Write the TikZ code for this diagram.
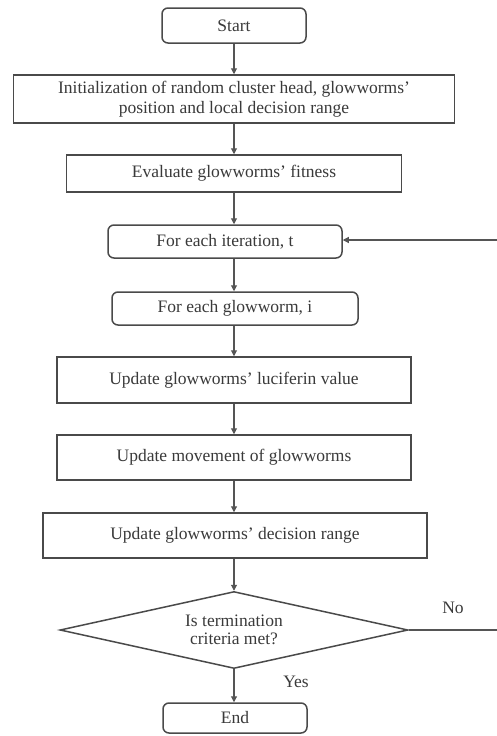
\documentclass[tikz,border=0pt]{standalone}
\usepackage{fontspec}
\setmainfont{Liberation Serif}
\usetikzlibrary{shapes.geometric,arrows.meta}
\definecolor{txt}{HTML}{3A3A3A}
\definecolor{edge}{HTML}{4A4A4A}
\definecolor{conn}{HTML}{555555}
\begin{document}
\begin{tikzpicture}[x=1pt,y=-1pt,
  every node/.style={font=\fontsize{17.5}{20}\selectfont, text=txt, inner sep=0pt},
  proc/.style={draw=edge, line width=1.5pt, fill=white, align=center},
  rbox/.style={proc, rounded corners=6pt},
  decide/.style={draw=edge, line width=1.5pt, shape=diamond, aspect=4.5, align=center,
     font=\fontsize{17.5}{18}\selectfont},
  arr/.style={draw=conn, line width=1.1pt, -{Triangle[width=6pt,length=6pt]}},
  ln/.style={draw=conn, line width=1.1pt},
  lbl/.style={text=txt}]
\useasboundingbox (0,0) rectangle (497,736);

\node[rbox, minimum width=144pt, minimum height=35pt] (start) at (234,25.5) {Start};
\node[proc, minimum width=441pt, minimum height=48pt] (init) at (234,99)
  {Initialization of random cluster head, glowworms'\\position and local decision range};
\node[proc, minimum width=335pt, minimum height=37pt] (eval) at (234,173.5) {Evaluate glowworms' fitness};
\node[rbox, minimum width=234pt, minimum height=33pt] (iter) at (225,241.5) {For each iteration, t};
\node[rbox, minimum width=246pt, minimum height=33pt] (glow) at (235,308.5) {For each glowworm, i};
\node[proc, minimum width=354pt, minimum height=46pt] (luc) at (234,380) {Update glowworms' luciferin value};
\node[proc, minimum width=354pt, minimum height=45pt] (mov) at (234,457.5) {Update movement of glowworms};
\node[proc, minimum width=384pt, minimum height=45pt] (dec) at (235,535.5) {Update glowworms' decision range};
\node[decide, minimum width=348pt, minimum height=77pt] (dia) at (234,630) {Is termination\\criteria met?};
\node[rbox, minimum width=144pt, minimum height=30pt] (end) at (235,718) {End};

\node[lbl] (yes) at (296,682) {Yes};
\node[lbl] (no) at (453,608) {No};

\coordinate (fbin) at (497,240);
\coordinate (fbout) at (497,630);

\draw[arr] (start.south) -- (start.south |- init.north);
\draw[arr] (init.south) -- (init.south |- eval.north);
\draw[arr] (eval.south) -- (eval.south |- iter.north);
\draw[arr] (eval.south |- iter.south) -- (eval.south |- glow.north);
\draw[arr] (luc.north |- glow.south) -- (luc.north);
\draw[arr] (luc.south) -- (mov.north);
\draw[arr] (mov.south) -- (mov.south |- dec.north);
\draw[arr] (dia.north |- dec.south) -- (dia.north);
\draw[arr] (dia.south) -- (dia.south |- end.north);
\draw[ln] (dia.east) -- (fbout);
\draw[arr] (fbin) -- (iter.east |- fbin);
\end{tikzpicture}
\end{document}
